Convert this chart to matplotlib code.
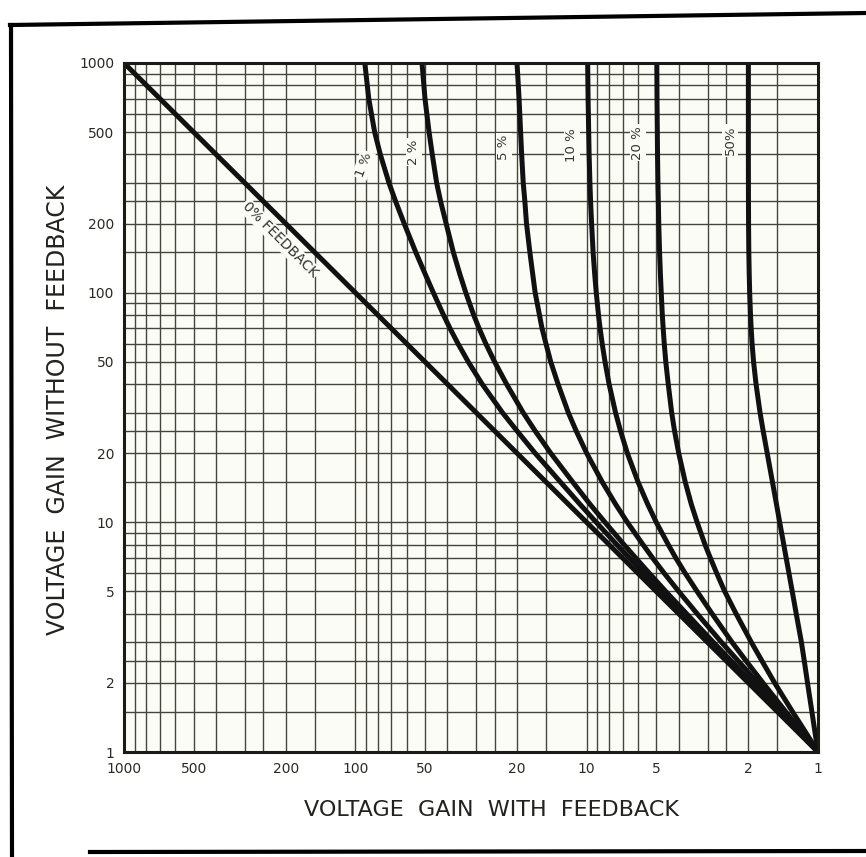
import matplotlib
matplotlib.use("Agg")
import matplotlib.pyplot as plt
from matplotlib.lines import Line2D

# gain without feedback (y) at which each curve was read off the chart
gain_without = [1, 1.2, 1.5, 2, 2.5, 3, 4, 5, 6, 7, 8, 10, 12, 15, 20, 25, 30, 40, 50,
                60, 70, 80, 100, 120, 150, 200, 250, 300, 400, 500, 700, 1000]

# gain with feedback (x) read for each feedback percentage
fb_0 = [1, 1.2, 1.5, 2, 2.5, 3, 4, 5, 6, 7, 8, 10, 12, 15, 20, 25, 30, 40, 50,
        60, 70, 80, 100, 120, 150, 200, 250, 300, 400, 500, 700, 1000]
fb_1 = [1, 1.19, 1.48, 1.96, 2.44, 2.91, 3.85, 4.76, 5.66, 6.54, 7.41, 9.09, 10.7, 13.0, 16.7, 20.0, 23.1, 28.3, 32.5,
        36.0, 39.0, 41.6, 46.0, 49.8, 54.8, 61.5, 67.0, 71.5, 78.0, 82.5, 87.5, 91.0]
fb_2 = [1, 1.18, 1.46, 1.92, 2.38, 2.83, 3.70, 4.55, 5.36, 6.14, 6.90, 8.33, 9.68, 11.5, 14.3, 16.7, 18.8, 22.2, 25.0,
        27.3, 29.2, 30.8, 33.3, 35.3, 37.7, 40.5, 42.8, 44.5, 46.5, 48, 50, 51.5]
fb_5 = [1, 1.17, 1.42, 1.82, 2.22, 2.61, 3.33, 4.0, 4.62, 5.19, 5.71, 6.67, 7.5, 8.57, 10.0, 11.1, 12.0, 13.3, 14.3,
        15.0, 15.6, 16.0, 16.7, 17.1, 17.6, 18.2, 18.5, 18.8, 19.1, 19.3, 19.6, 20.0]
fb_10 = [1, 1.16, 1.38, 1.73, 2.05, 2.35, 2.87, 3.33, 3.75, 4.12, 4.44, 5.0, 5.45, 6.0, 6.67, 7.14, 7.5, 8.0, 8.33,
         8.57, 8.75, 8.89, 9.09, 9.23, 9.38, 9.52, 9.62, 9.68, 9.76, 9.80, 9.86, 9.90]
fb_20 = [1, 1.12, 1.29, 1.54, 1.75, 1.94, 2.26, 2.53, 2.74, 2.92, 3.08, 3.33, 3.53, 3.75, 4.0, 4.17, 4.29, 4.44, 4.55,
         4.62, 4.67, 4.71, 4.76, 4.80, 4.84, 4.88, 4.90, 4.92, 4.94, 4.95, 4.965, 4.975]
fb_50 = [1, 1.028, 1.063, 1.11, 1.147, 1.179, 1.242, 1.292, 1.335, 1.373, 1.406, 1.464, 1.512, 1.574, 1.658, 1.726,
         1.78, 1.853, 1.899, 1.927, 1.945, 1.958, 1.974, 1.983, 1.991, 1.996, 1.998, 1.999, 2.0, 2.0, 2.0, 2.0]

curves = [fb_0, fb_1, fb_2, fb_5, fb_10, fb_20, fb_50]

# curve labels: text, x, y, rotation
curve_labels = [
    ("1 %", 92, 360, 70),
    ("2 %", 56, 410, 90),
    ("5 %", 22.8, 430, 90),
    ("10 %", 11.6, 437, 90),
    ("20 %", 6.0, 450, 90),
    ("50%", 2.4, 460, 90),
]

tick_vals = [1000, 500, 200, 100, 50, 20, 10, 5, 2, 1]
tick_text = ["1000", "500", "200", "100", "50", "20", "10", "5", "2", "1"]

# log paper rulings in each decade
subdiv = [1, 1.5, 2, 2.5, 3, 4, 5, 6, 7, 8, 9]

ink = "#1a1a16"
rule = "#45453c"

fig = plt.figure(figsize=(8.66, 8.57), dpi=100)
fig.patch.set_facecolor("white")
ax = fig.add_axes([124 / 866, 1 - 752 / 857, (818 - 124) / 866, (752 - 63) / 857])
ax.set_facecolor("#fcfcf7")
ax.set_xscale("log")
ax.set_yscale("log")
ax.set_xlim(1000, 1)
ax.set_ylim(1, 1000)

for k in range(3):
    for m in subdiv:
        v = m * 10 ** k
        if v == 1:
            continue
        ax.axvline(v, color=rule, lw=1.0, zorder=1)
        ax.axhline(v, color=rule, lw=1.0, zorder=1)

for xs in curves:
    ax.plot(xs, gain_without, color="#111111", lw=3.6, zorder=3,
            solid_capstyle="butt", solid_joinstyle="round")

box = dict(facecolor="#fcfcf7", edgecolor="none", pad=1.0)
for txt, x, y, rot in curve_labels:
    ax.text(x, y, txt, rotation=rot, ha="center", va="center", fontsize=9.5,
            color="#333330", zorder=4, bbox=box)
ax.text(212, 170, "0% FEEDBACK", rotation=-45, ha="center", va="center", fontsize=10,
        color="#333330", zorder=4, bbox=box)

ax.set_xticks(tick_vals)
ax.set_xticklabels(tick_text)
ax.set_yticks(tick_vals)
ax.set_yticklabels(tick_text)
ax.minorticks_off()
ax.tick_params(length=0, pad=7, labelsize=10, labelcolor="#2a2a26")
for s in ax.spines.values():
    s.set_linewidth(2.2)
    s.set_color(ink)
    s.set_zorder(5)

fig.text(491 / 866, 1 - 810 / 857, "VOLTAGE  GAIN  WITH  FEEDBACK", ha="center", va="center",
         fontsize=16, color="#222220")
fig.text(58 / 866, 1 - 410 / 857, "VOLTAGE  GAIN  WITHOUT  FEEDBACK", ha="center", va="center",
         rotation=90, fontsize=17, color="#222220")

# outer frame of the printed figure
fig.add_artist(Line2D([10 / 866, 1], [1 - 25 / 857, 1 - 13 / 857], transform=fig.transFigure,
                      color="black", lw=3))
fig.add_artist(Line2D([11 / 866, 12 / 866], [1 - 25 / 857, 0], transform=fig.transFigure,
                      color="black", lw=3))
fig.add_artist(Line2D([90 / 866, 1], [1 - 852 / 857, 1 - 851 / 857], transform=fig.transFigure,
                      color="black", lw=3))

fig.savefig("out.png", dpi=100)
